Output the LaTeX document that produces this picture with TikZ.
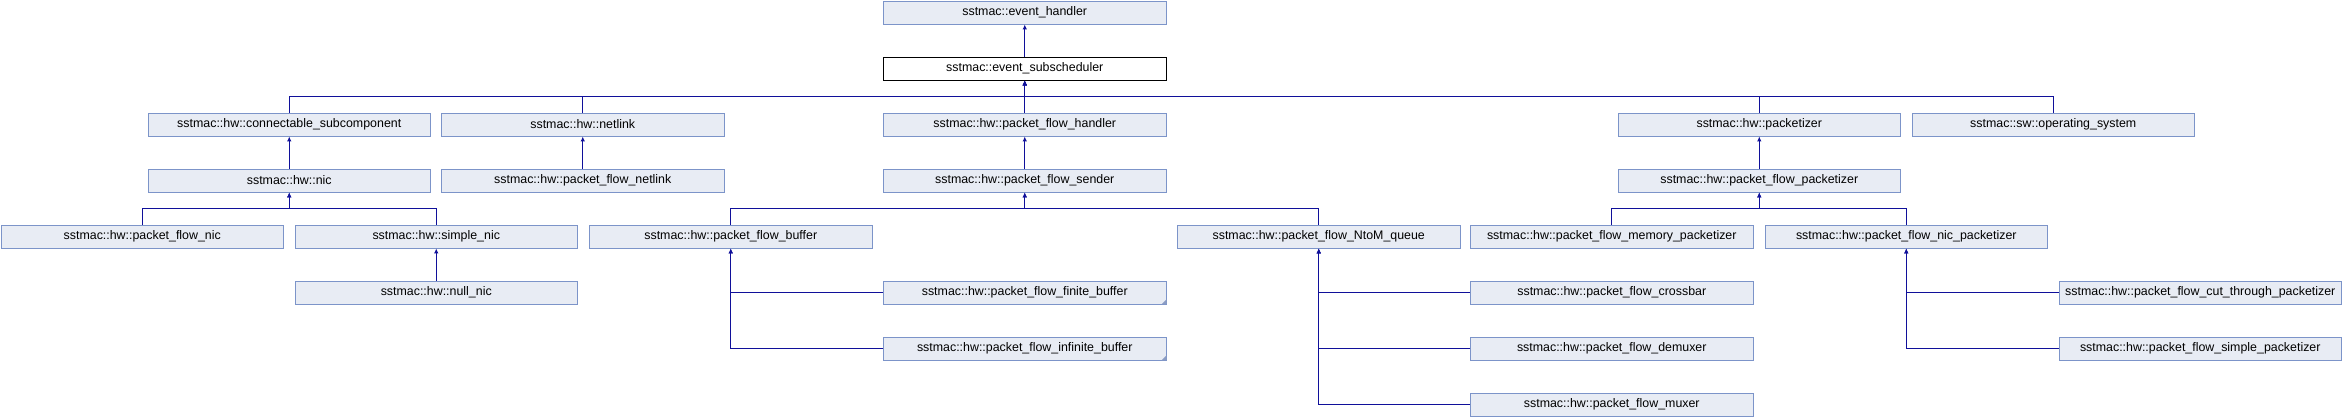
\documentclass[tikz,border=0pt]{standalone}
\usepackage{fontspec}
\setmainfont{Liberation Sans}
\usetikzlibrary{arrows.meta,calc}
\definecolor{boxfill}{HTML}{E8ECF4}
\definecolor{boxline}{HTML}{7C94C9}
\definecolor{edgecol}{HTML}{10109A}
\definecolor{cornercol}{HTML}{8A9CC4}
\begin{document}
\begin{tikzpicture}[x=1pt,y=-1pt,
  cls/.style={draw=boxline,fill=boxfill,line width=0.9pt,anchor=north west,
    minimum width=282.6pt,minimum height=23pt,inner sep=0pt,
    font=\fontsize{12.4}{14}\selectfont},
  cur/.style={cls,draw=black,fill=white},
  edge/.style={draw=edgecol,line width=1pt,-{Latex[length=5pt,width=4.5pt]}},
  corner/.style={fill=cornercol}]
\useasboundingbox (0,0) rectangle (2342,416);
% row 1-2
\node[cls] (eh) at (883,0.5) {sstmac::event\_handler};
\node[cur] (sub) at (883,56.5) {sstmac::event\_subscheduler};
% row 3
\node[cls] (conn) at (147.5,112.5) {sstmac::hw::connectable\_subcomponent};
\node[cls] (net) at (441,112.5) {sstmac::hw::netlink};
\node[cls] (pfh) at (883,112.5) {sstmac::hw::packet\_flow\_handler};
\node[cls] (pkt) at (1617.5,112.5) {sstmac::hw::packetizer};
\node[cls] (os) at (1911.5,112.5) {sstmac::sw::operating\_system};
% row 4
\node[cls] (nic) at (147.5,168.5) {sstmac::hw::nic};
\node[cls] (pfnet) at (441,168.5) {sstmac::hw::packet\_flow\_netlink};
\node[cls] (pfs) at (883,168.5) {sstmac::hw::packet\_flow\_sender};
\node[cls] (pfp) at (1617.5,168.5) {sstmac::hw::packet\_flow\_packetizer};
% row 5
\node[cls] (pfnic) at (0.5,224.5) {sstmac::hw::packet\_flow\_nic};
\node[cls] (snic) at (294.5,224.5) {sstmac::hw::simple\_nic};
\node[cls] (buf) at (589,224.5) {sstmac::hw::packet\_flow\_buffer};
\node[cls] (ntom) at (1177,224.5) {sstmac::hw::packet\_flow\_NtoM\_queue};
\node[cls] (mem) at (1470,224.5) {sstmac::hw::packet\_flow\_memory\_packetizer};
\node[cls] (nicp) at (1764.5,224.5) {sstmac::hw::packet\_flow\_nic\_packetizer};
% row 6
\node[cls] (null) at (294.5,280.5) {sstmac::hw::null\_nic};
\node[cls] (fin) at (883,280.5) {sstmac::hw::packet\_flow\_finite\_buffer};
\node[cls] (xbar) at (1470,280.5) {sstmac::hw::packet\_flow\_crossbar};
\node[cls] (cut) at (2058.5,280.5) {sstmac::hw::packet\_flow\_cut\_through\_packetizer};
% row 7
\node[cls] (inf) at (883,336.5) {sstmac::hw::packet\_flow\_infinite\_buffer};
\node[cls] (demux) at (1470,336.5) {sstmac::hw::packet\_flow\_demuxer};
\node[cls] (simp) at (2058.5,336.5) {sstmac::hw::packet\_flow\_simple\_packetizer};
% row 8
\node[cls] (mux) at (1470,392.5) {sstmac::hw::packet\_flow\_muxer};
% corner marks
\fill[corner] (fin.south east) -- ++(-5,0) -- ++(5,-5) -- cycle;
\fill[corner] (inf.south east) -- ++(-5,0) -- ++(5,-5) -- cycle;
% bus coordinates
\coordinate (busA) at (0,96.3);
\coordinate (busB) at (0,208.3);
% edges
\draw[edge] (sub.north) -- (eh.south);
\draw[edge] (pfh.north) -- (sub.south);
\draw[edge] (conn.north) |- (busA -| sub.south) -- (sub.south);
\draw[edge] (net.north) |- (busA -| sub.south) -- (sub.south);
\draw[edge] (pkt.north) |- (busA -| sub.south) -- (sub.south);
\draw[edge] (os.north) |- (busA -| sub.south) -- (sub.south);
\draw[edge] (nic.north) -- (conn.south);
\draw[edge] (pfnet.north) -- (net.south);
\draw[edge] (pfs.north) -- (pfh.south);
\draw[edge] (pfp.north) -- (pkt.south);
\draw[edge] (pfnic.north) |- (busB -| nic.south) -- (nic.south);
\draw[edge] (snic.north) |- (busB -| nic.south) -- (nic.south);
\draw[edge] (buf.north) |- (busB -| pfs.south) -- (pfs.south);
\draw[edge] (ntom.north) |- (busB -| pfs.south) -- (pfs.south);
\draw[edge] (mem.north) |- (busB -| pfp.south) -- (pfp.south);
\draw[edge] (nicp.north) |- (busB -| pfp.south) -- (pfp.south);
\draw[edge] (null.north) -- (snic.south);
\draw[edge] (fin.west) -| (buf.south);
\draw[edge] (inf.west) -| (buf.south);
\draw[edge] (xbar.west) -| (ntom.south);
\draw[edge] (demux.west) -| (ntom.south);
\draw[edge] (mux.west) -| (ntom.south);
\draw[edge] (cut.west) -| (nicp.south);
\draw[edge] (simp.west) -| (nicp.south);
\end{tikzpicture}
\end{document}
